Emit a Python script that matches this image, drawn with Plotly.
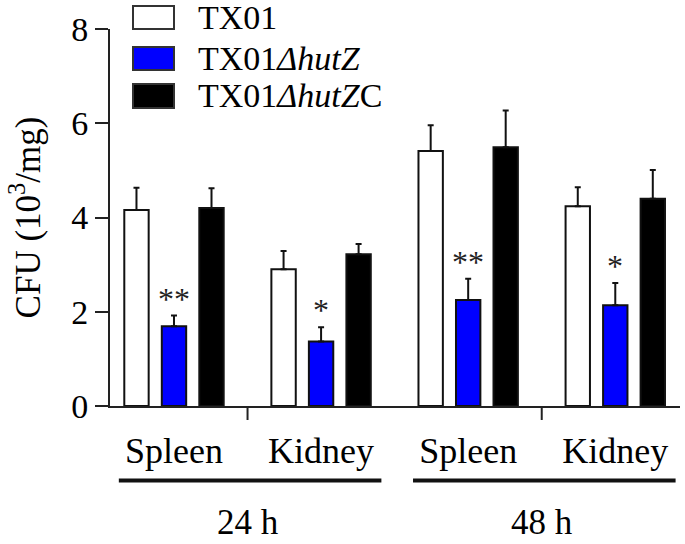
import plotly.graph_objects as go

# ---- data ----
tissues = ["Spleen", "Kidney", "Spleen", "Kidney"]
times = ["24 h", "24 h", "48 h", "48 h"]
time_groups = ["24 h", "48 h"]
strain_names = ["TX01", "TX01<i>ΔhutZ</i>", "TX01<i>ΔhutZ</i>C"]
tx01 = [4.16, 2.90, 5.41, 4.24]
tx01_err = [0.47, 0.39, 0.55, 0.40]
hutz = [1.69, 1.37, 2.25, 2.14]
hutz_err = [0.23, 0.30, 0.45, 0.47]
hutzc = [4.20, 3.22, 5.49, 4.40]
hutzc_err = [0.42, 0.22, 0.78, 0.61]
signif = ["**", "*", "**", "*"]
y_ticks = [0, 2, 4, 6, 8]

cats = [f"{t} {s}" for t, s in zip(times, tissues)]
fills = ["#ffffff", "#0000ff", "#000000"]
series = [(tx01, tx01_err), (hutz, hutz_err), (hutzc, hutzc_err)]

FONT = "Liberation Serif, Times New Roman, serif"

fig = go.Figure()
for name, (vals, errs), col in zip(strain_names, series, fills):
    fig.add_trace(go.Bar(
        x=cats, y=vals, name=name,
        marker=dict(color=col, line=dict(color="#111111", width=2)),
        error_y=dict(type="data", array=errs, arrayminus=[0] * len(errs),
                     symmetric=False, color="#111111", thickness=2, width=3),
        showlegend=False,
    ))

annotations = []
shapes = []

# significance marks
for c, v, e, s in zip(cats, hutz, hutz_err, signif):
    annotations.append(dict(x=c, y=v + e, xref="x", yref="y", text=s,
                            showarrow=False, yanchor="bottom", yshift=-3,
                            font=dict(family=FONT, size=32, color="#222222")))

# custom legend
PLOT_L, PLOT_R, PLOT_T, PLOT_B = 110, 680, 29, 406.5
W = PLOT_R - PLOT_L
H = PLOT_B - PLOT_T
def px(x):
    return (x - PLOT_L) / W
def py(y):
    return (PLOT_B - y) / H

box_rows = [(6, 29), (47, 70), (84, 108)]
for name, col, (t, b) in zip(strain_names, fills, box_rows):
    shapes.append(dict(type="rect", xref="paper", yref="paper",
                       x0=px(133), x1=px(174), y0=py(b), y1=py(t),
                       fillcolor=col, line=dict(color="#333333", width=2)))
    annotations.append(dict(x=px(196), y=py((t + b) / 2), xref="paper", yref="paper",
                            text=name, showarrow=False, xanchor="left", yanchor="middle",
                            font=dict(family=FONT, size=34, color="#000000")))

# group ticks, underlines and time labels
for gi, tg in enumerate(time_groups):
    i0 = 2 * gi
    i1 = 2 * gi + 1
    mid = (i0 + i1) / 2
    shapes.append(dict(type="line", xref="x", yref="paper", x0=mid, x1=mid,
                       y0=0, y1=py(PLOT_B + 14), line=dict(color="#222222", width=2)))
    shapes.append(dict(type="line", xref="x", yref="paper", x0=i0 - 0.375, x1=i1 + 0.41,
                       y0=py(481), y1=py(481), line=dict(color="#111111", width=4)))
    annotations.append(dict(x=mid, y=py(544), xref="x", yref="paper", text=tg,
                            showarrow=False, xanchor="center", yanchor="bottom", borderpad=0,
                            font=dict(family=FONT, size=35, color="#000000")))

fig.update_layout(
    width=685, height=544,
    margin=dict(l=PLOT_L, r=685 - PLOT_R, t=PLOT_T, b=544 - PLOT_B),
    paper_bgcolor="white", plot_bgcolor="white",
    barmode="group", bargap=0.235, bargroupgap=0.35,
    font=dict(family=FONT, color="#000000"),
    shapes=shapes, annotations=annotations,
    xaxis=dict(type="category", tickvals=cats, ticktext=tissues,
               range=[-0.435, 3.44], showline=True, linecolor="#222222", linewidth=2,
               ticks="", showgrid=False, zeroline=False, ticklabelstandoff=12,
               tickfont=dict(family=FONT, size=36, color="#000000")),
    yaxis=dict(range=[0, 8], tickvals=y_ticks, showline=True, linecolor="#222222",
               linewidth=2, ticks="outside", ticklen=13, tickwidth=2, tickcolor="#222222",
               showgrid=False, zeroline=False,
               tickfont=dict(family=FONT, size=34, color="#000000"),
               title=dict(text="CFU (10<sup>3</sup>/mg)", standoff=20,
                          font=dict(family=FONT, size=35, color="#000000"))),
)

fig.write_html("out.html", config={"displayModeBar": False},
               post_script="document.body.style.margin='0';document.body.style.overflow='hidden';")
